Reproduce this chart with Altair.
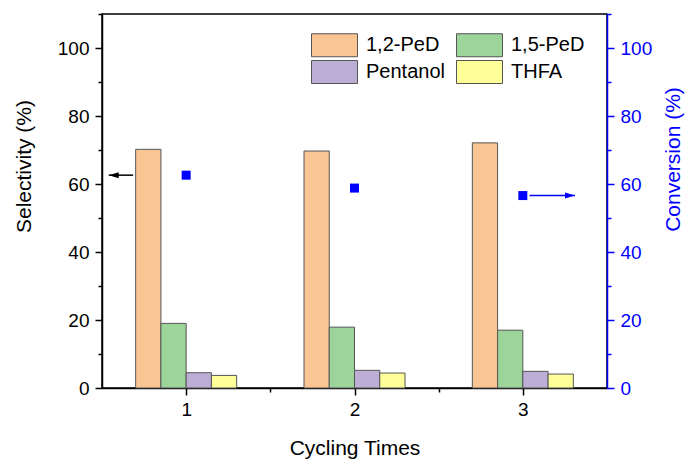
import altair as alt
import pandas as pd

# Catalyst recycling: product selectivity (bars, left axis) and conversion (squares, right axis)
cycles = [1, 2, 3]
products = ["1,2-PeD", "1,5-PeD", "Pentanol", "THFA"]
sel_12ped = [70.2, 69.7, 72.1]
sel_15ped = [19.0, 17.9, 17.0]
sel_pentanol = [4.5, 5.2, 4.9]
sel_thfa = [3.7, 4.4, 4.1]
conversion = [62.6, 58.8, 56.6]

colors = ["#F9C593", "#9DD49A", "#BDAED6", "#FFFF99"]
BLUE = "#0000FF"
FONT = "Liberation Sans"
BAR_W = 0.15

rows = []
for k, vals in enumerate([sel_12ped, sel_15ped, sel_pentanol, sel_thfa]):
    for c, v in zip(cycles, vals):
        left = c + (k - 2) * BAR_W
        rows.append({"product": products[k], "sel": v, "x0": left, "x1": left + BAR_W})
bars_df = pd.DataFrame(rows)

conv_df = pd.DataFrame({"cycle": cycles, "conv": conversion})

# arrows pointing each series to its axis
arrows_df = pd.DataFrame({
    "tip": [cycles[0] - 0.46, cycles[-1] + 0.31],
    "tail": [cycles[0] - 0.315, cycles[-1] + 0.04],
    "y": [conversion[0], conversion[-1]],
    "side": ["left", "right"],
})

XDOM = [0.5, 3.5]
YDOM = [0, 110]

x_axis = alt.Axis(
    values=[1, 1.5, 2, 2.5, 3],
    labelExpr="datum.value % 1 === 0 ? format(datum.value, 'd') : ''",
    tickSize={"condition": {"test": "datum.value % 1 === 0", "value": 7}, "value": 4},
    domainColor="black", domainWidth=1.5, tickColor="black", tickWidth=1.5,
    labelColor="black", labelFontSize=19, labelFont=FONT, labelPadding=5,
    grid=False, title="Cycling Times", titleFont=FONT, titleFontSize=21,
    titleFontWeight="normal", titleColor="black", titleBaseline="alphabetic", titleY=66,
)


def xenc(field):
    return alt.X(f"{field}:Q", scale=alt.Scale(domain=XDOM, nice=False, zero=False), axis=x_axis)


def yaxis(orient, color, title, title_x, title_y):
    return alt.Axis(
        orient=orient,
        values=list(range(0, 111, 10)),
        labelExpr="datum.value % 20 === 0 ? datum.label : ''",
        tickSize={"condition": {"test": "datum.value % 20 === 0", "value": 7}, "value": 4},
        domainColor=color, domainWidth=1.5, tickColor=color, tickWidth=1.5,
        labelColor=color, labelFontSize=19, labelFont=FONT, labelPadding=6,
        labelFlush=False,
        grid=False, title=title, titleFont=FONT, titleFontSize=21,
        titleFontWeight="normal", titleColor=color, titleAngle=270,
        titleBaseline="bottom", titleX=title_x, titleY=title_y,
    )


def yscale():
    return alt.Scale(domain=YDOM, nice=False, zero=True, padding=0)


# wide legend swatch: 2:1 rectangle drawn to the right of the symbol anchor
SWATCH = "M-1,-1H3V1H-1Z"

bars = alt.Chart(bars_df).mark_bar(stroke="#555555", strokeWidth=1).encode(
    x=xenc("x0"),
    x2="x1:Q",
    y=alt.Y("sel:Q", scale=yscale(), axis=yaxis("left", "black", "Selectivity (%)", -68, 152)),
    y2=alt.datum(0),
    color=alt.Color(
        "product:N",
        scale=alt.Scale(domain=products, range=colors),
        legend=alt.Legend(
            orient="none", legendX=209, legendY=19, columns=2, direction="horizontal",
            title=None,
            symbolType=SWATCH, symbolSize=529,
            symbolStrokeColor="#555555", symbolStrokeWidth=1, symbolOpacity=1,
            labelFont=FONT, labelFontSize=20, labelColor="black", labelOffset=31,
            columnPadding=9, rowPadding=-1, padding=0,
        ),
    ),
)

squares = alt.Chart(conv_df).mark_square(size=81, color=BLUE, opacity=1).encode(
    x=xenc("cycle"),
    y=alt.Y("conv:Q", scale=yscale(), axis=yaxis("right", BLUE, "Conversion (%)", 76, 145)),
)

arrow_lines = alt.Chart(arrows_df).mark_rule(strokeWidth=1.5).encode(
    x=xenc("tip"),
    x2="tail:Q",
    y=alt.Y("y:Q", scale=yscale(), axis=None),
    color=alt.Color("side:N", scale=alt.Scale(domain=["left", "right"], range=["black", BLUE]), legend=None),
)

head_left = alt.Chart(arrows_df).transform_filter("datum.side === 'left'").mark_point(
    shape="M0,0L2,-0.6L2,0.6Z", size=100, filled=True, color="black", opacity=1
).encode(x=xenc("tip"), y=alt.Y("y:Q", scale=yscale(), axis=None))

head_right = alt.Chart(arrows_df).transform_filter("datum.side === 'right'").mark_point(
    shape="M0,0L-2,-0.6L-2,0.6Z", size=100, filled=True, color=BLUE, opacity=1
).encode(x=xenc("tip"), y=alt.Y("y:Q", scale=yscale(), axis=None))

chart = (
    alt.layer(bars, squares, arrow_lines, head_left, head_right)
    .resolve_scale(y="independent", color="independent")
    .properties(
        width=505, height=374,
        padding={"left": 102, "top": 14, "right": 79, "bottom": 71},
        autosize=alt.AutoSizeParams(type="none"),
        background="white",
    )
    .configure_view(stroke="black", strokeWidth=1.5)
)

chart.save("out.html", embed_options={"renderer": "svg", "actions": False})
